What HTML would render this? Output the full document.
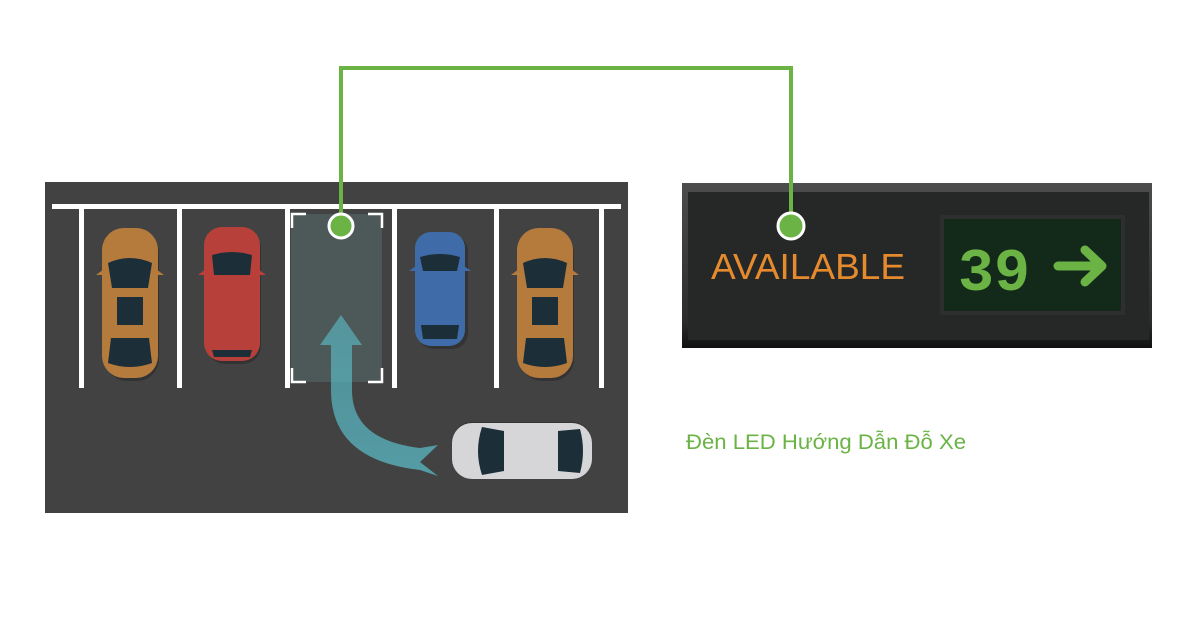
<!DOCTYPE html>
<html><head><meta charset="utf-8"><style>
html,body{margin:0;padding:0;background:#fff;width:1200px;height:630px;overflow:hidden}
svg{display:block}
</style></head><body>
<svg width="1200" height="630" viewBox="0 0 1200 630" xmlns="http://www.w3.org/2000/svg">
<defs>
<linearGradient id="arr" x1="0" y1="1" x2="0" y2="0">
<stop offset="0" stop-color="#5ab8c4" stop-opacity="0.9"/>
<stop offset="1" stop-color="#5ab8c4" stop-opacity="0.75"/>
</linearGradient>
<linearGradient id="panel" x1="0" y1="0" x2="0" y2="1">
<stop offset="0" stop-color="#4d4d4d"/>
<stop offset="0.85" stop-color="#2b2b2b"/>
<stop offset="1" stop-color="#111"/>
</linearGradient>
<g id="sedan">
<rect x="-25" y="-72" width="54" height="150" rx="22" fill="#2a2a2a" opacity="0.6"/>
<rect x="-28" y="-75" width="56" height="150" rx="22" fill="currentColor"/>
<path d="M-22 -40 Q0 -50 22 -40 L18 -15 L-18 -15Z" fill="#1c2e38"/>
<rect x="-13" y="-6" width="26" height="28" fill="#1c2e38"/>
<path d="M-19 35 L19 35 L22 60 Q0 68 -22 60Z" fill="#1c2e38"/>
<path d="M-34 -28 l8 -6 v6z M34 -28 l-8 -6 v6z" fill="currentColor"/>
</g>
</defs>

<rect x="45" y="182" width="583" height="331" fill="#414241"/>
<rect x="52" y="204" width="569" height="5" fill="#fff"/>
<g fill="#fff">
<rect x="79" y="204" width="5" height="184"/>
<rect x="177" y="204" width="5" height="184"/>
<rect x="285" y="204" width="5" height="184"/>
<rect x="392" y="204" width="5" height="184"/>
<rect x="494" y="204" width="5" height="184"/>
<rect x="599" y="204" width="5" height="184"/>
</g>
<rect x="291" y="214" width="91" height="168" fill="#5d7676" opacity="0.45"/>
<path d="M292 228 V214 H306 M368 214 H382 V228 M292 368 V382 H306 M368 382 H382 V368" stroke="#fff" stroke-width="2.5" fill="none"/>

<use href="#sedan" transform="translate(130,303)" color="#b57b3d"/>
<g transform="translate(232,295)">
<rect x="-25" y="-65" width="54" height="134" rx="18" fill="#2a2a2a" opacity="0.6"/>
<rect x="-28" y="-68" width="56" height="134" rx="18" fill="#b8403a"/>
<path d="M-20 -40 Q0 -46 20 -40 L18 -20 L-18 -20Z" fill="#1c2e38"/>
<path d="M-20 55 L20 55 L18 62 L-18 62Z" fill="#1c2e38"/>
<path d="M-34 -20 l8 -6 v6z M34 -20 l-8 -6 v6z" fill="#b8403a"/>
</g>
<g transform="translate(440,289)">
<rect x="-22" y="-54" width="50" height="114" rx="16" fill="#2a2a2a" opacity="0.6"/>
<rect x="-25" y="-57" width="50" height="114" rx="16" fill="#3f6ca8"/>
<path d="M-20 -32 Q0 -38 20 -32 L17 -18 L-17 -18Z" fill="#1c2e38"/>
<path d="M-19 36 L19 36 L17 50 L-17 50Z" fill="#1c2e38"/>
<path d="M-31 -18 l7 -5 v5z M31 -18 l-7 -5 v5z" fill="#3f6ca8"/>
</g>
<use href="#sedan" transform="translate(545,303)" color="#b57b3d"/>

<g transform="translate(522,451) rotate(-90)">
<rect x="-25" y="-70" width="54" height="140" rx="20" fill="#2a2a2a" opacity="0.6"/>
<rect x="-28" y="-70" width="56" height="140" rx="20" fill="#d6d6d8"/>
<path d="M-24 -40 Q0 -48 24 -40 L20 -18 L-20 -18Z" fill="#1c2e38"/>
<path d="M-20 36 L20 36 L22 58 Q0 64 -22 58Z" fill="#1c2e38"/>
</g>

<path d="M331 345 L331 390 Q331 460 420 470 L438 476 L420 462 L438 445 L420 448 Q352 440 352 390 L352 345 L362 345 L341 315 L320 345Z" fill="url(#arr)" opacity="0.85"/>

<rect x="682" y="183" width="470" height="165" fill="url(#panel)"/>
<rect x="688" y="192" width="461" height="148" fill="#262727"/>
<rect x="940" y="215" width="185" height="100" fill="#2e2e2e"/>
<rect x="944" y="219" width="177" height="92" fill="#132a1a"/>
<text x="711" y="279" font-family="Liberation Sans, sans-serif" font-size="36" fill="#e58a2d" textLength="194" lengthAdjust="spacingAndGlyphs">AVAILABLE</text>
<text x="958" y="290" font-family="Liberation Mono, monospace" font-size="60" font-weight="bold" fill="#6ab344" textLength="72" lengthAdjust="spacingAndGlyphs">39</text>
<path d="M1058 266 H1102 M1085 250 L1102 266 L1085 282" stroke="#6ab344" stroke-width="9" stroke-linecap="round" stroke-linejoin="round" fill="none"/>

<path d="M341 226 V68 H791 V226" stroke="#6ab344" stroke-width="4" fill="none"/>
<circle cx="341" cy="226" r="12" fill="#6ab344" stroke="#fff" stroke-width="3"/>
<circle cx="791" cy="226" r="13" fill="#6ab344" stroke="#fff" stroke-width="3"/>

<text x="686" y="449" font-family="Liberation Sans, sans-serif" font-size="21" fill="#6ab344" textLength="280" lengthAdjust="spacingAndGlyphs">Đèn LED Hướng Dẫn Đỗ Xe</text>
</svg>
</body></html>
